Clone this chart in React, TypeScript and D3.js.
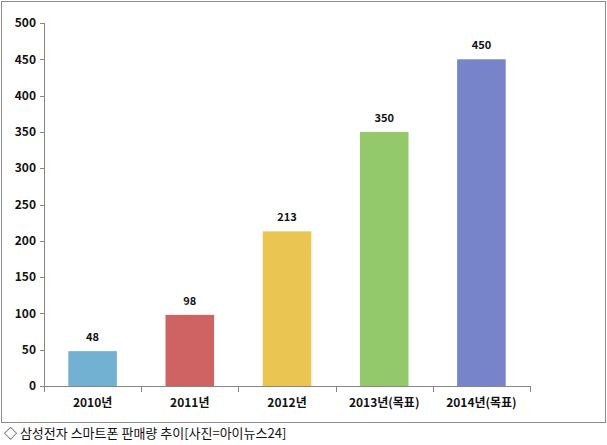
import * as d3 from "d3";

const categories = ["2010년", "2011년", "2012년", "2013년(목표)", "2014년(목표)"];
const values = [48, 98, 213, 350, 450];
const colors = ["#73B1D3", "#CF6363", "#EBC552", "#93C86B", "#7884C9"];
const yTicks = [0, 50, 100, 150, 200, 250, 300, 350, 400, 450, 500];
const caption = "◇ 삼성전자 스마트폰 판매량 추이[사진=아이뉴스24]";

const W = 607;
const H = 445;
const margin = { top: 23, left: 44, right: 77, bottom: 59 };

export default function App() {
  const x = d3
    .scaleBand<string>()
    .domain(categories)
    .range([margin.left, W - margin.right])
    .paddingInner(0.5)
    .paddingOuter(0.25);
  const y = d3.scaleLinear().domain([0, 500]).range([H - margin.bottom, margin.top]);
  const y0 = y(0);
  const step = x.step();
  const font = "'Noto Sans CJK KR', 'Noto Sans', sans-serif";

  return (
    <svg width={W} height={H} style={{ position: "absolute", left: 0, top: 0, background: "#fff" }}>
      <rect x={1.5} y={1.5} width={604} height={421} fill="#fff" stroke="#8c8c8c" strokeWidth={1} />

      {/* y axis */}
      <line x1={margin.left + 0.5} x2={margin.left + 0.5} y1={y(500)} y2={y0} stroke="#868686" />
      {yTicks.map((t) => (
        <g key={t}>
          <line x1={margin.left - 4} x2={margin.left} y1={Math.round(y(t)) + 0.5} y2={Math.round(y(t)) + 0.5} stroke="#868686" />
          <text x={36} y={y(t)} dy="0.35em" textAnchor="end" fontFamily={font} fontSize={12} fontWeight={700} fill="#111">
            {t}
          </text>
        </g>
      ))}

      {/* x axis */}
      <line x1={margin.left} x2={W - margin.right} y1={Math.round(y0) + 0.5} y2={Math.round(y0) + 0.5} stroke="#868686" />
      {d3.range(categories.length + 1).map((i) => {
        const px = Math.round(margin.left + i * step) + 0.5;
        return <line key={i} x1={px} x2={px} y1={y0} y2={y0 + 6} stroke="#868686" />;
      })}

      {categories.map((c, i) => {
        const bx = x(c)!;
        const bw = x.bandwidth();
        return (
          <g key={c}>
            <rect x={bx} y={y(values[i])} width={bw} height={y0 - y(values[i])} fill={colors[i]} />
            <text x={bx + bw / 2} y={y(values[i]) - 10} textAnchor="middle" fontFamily={font} fontSize={11} fontWeight={700} fill="#111">
              {values[i]}
            </text>
            <text x={bx + bw / 2} y={y0 + 21} textAnchor="middle" fontFamily={font} fontSize={12} fontWeight={700} fill="#111">
              {c}
            </text>
          </g>
        );
      })}

      <text x={4} y={438} fontFamily={font} fontSize={13} fill="#111">
        {caption}
      </text>
    </svg>
  );
}
